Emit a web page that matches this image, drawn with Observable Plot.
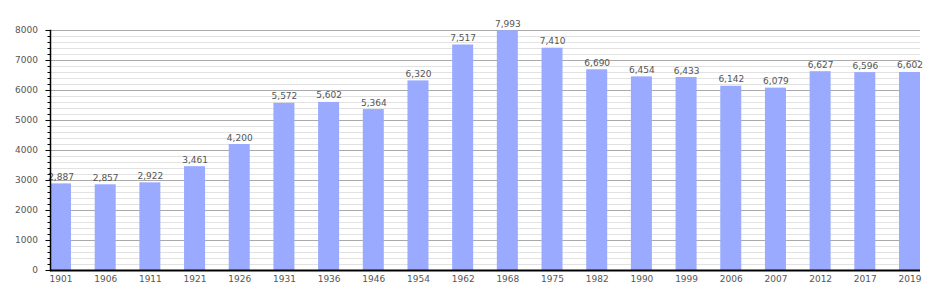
<!DOCTYPE html>
<html><head><meta charset="utf-8">
<script src="https://cdn.jsdelivr.net/npm/d3@7"></script>
<script src="https://cdn.jsdelivr.net/npm/@observablehq/plot@0.6"></script>
<style>body{margin:0;background:#fff;} svg{display:block;}</style>
</head><body><div id="chart"></div>
<script>
const years = ["1901","1906","1911","1921","1926","1931","1936","1946","1954","1962","1968","1975","1982","1990","1999","2006","2007","2012","2017","2019"];
const population = [2887,2857,2922,3461,4200,5572,5602,5364,6320,7517,7993,7410,6690,6454,6433,6142,6079,6627,6596,6602];
const majorTicks = [0,1000,2000,3000,4000,5000,6000,7000,8000];
const minorTicks = d3.range(0, 8001, 200);

const data = years.map((y, i) => ({year: y, pop: population[i]}));
const fmt = d3.format(",");

const chart = Plot.plot({
  width: 950, height: 300,
  marginTop: 30, marginBottom: 30, marginLeft: 50, marginRight: 30,
  style: {fontFamily: "DejaVu Sans", fontSize: "9px", color: "#555", background: "#fff"},
  x: {domain: years, paddingInner: 0.53, paddingOuter: 0, round: false, label: null},
  y: {domain: [0, 8000], label: null},
  marks: [
    Plot.ruleY(minorTicks.filter(d => d % 1000 !== 0), {stroke: "#e2e2e2", strokeWidth: 1}),
    Plot.ruleY(majorTicks.filter(d => d > 0), {stroke: "#aaa", strokeWidth: 1}),
    Plot.barY(data, {x: "year", y: "pop", fill: "#99aaff"}),
    Plot.text(data, {x: "year", y: "pop", text: d => fmt(d.pop), dy: -4, lineAnchor: "bottom", fill: "#555"}),
    Plot.axisY({ticks: minorTicks, tickSize: 2.5, text: null, stroke: "#000"}),
    Plot.axisY({ticks: majorTicks, tickSize: 4.5, tickPadding: 8, tickFormat: d => String(d), stroke: "#000", fill: "#555"}),
    Plot.axisX({tickSize: 0, tickPadding: 5, fill: "#555"}),
    Plot.frame({anchor: "left", stroke: "#000", strokeWidth: 1.5}),
    Plot.ruleY([0], {stroke: "#000", strokeWidth: 2})
  ]
});
document.getElementById("chart").appendChild(chart);
</script>
</body></html>
